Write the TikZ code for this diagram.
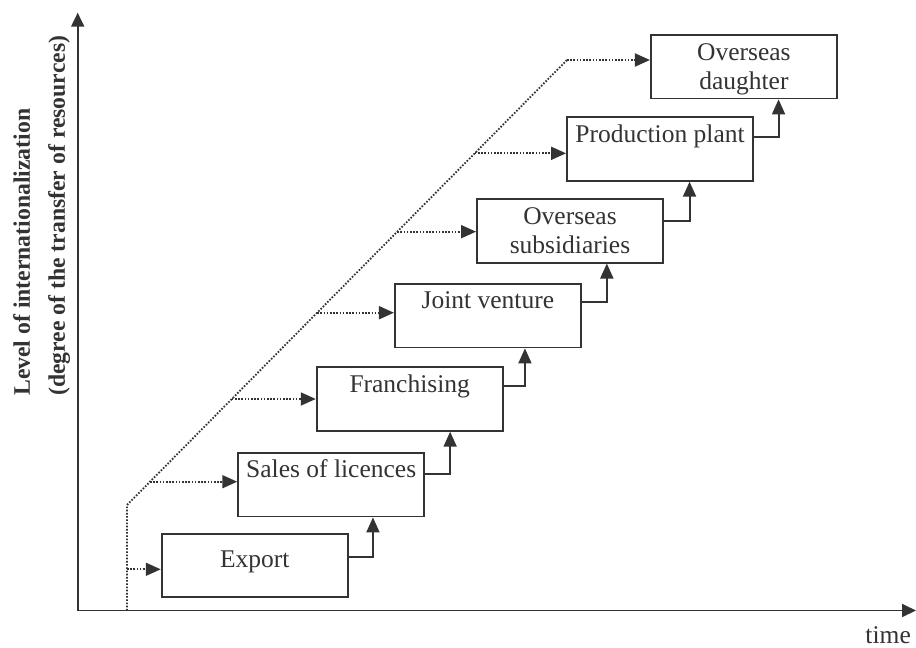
\documentclass[tikz,border=0pt]{standalone}
\usepackage{fontspec}
\setmainfont{Liberation Serif}
\usetikzlibrary{arrows.meta,calc}
\definecolor{ink}{HTML}{333333}
\begin{document}
\begin{tikzpicture}[x=1pt,y=-1pt,
  every node/.style={text=ink},
  box/.style={draw=ink, line width=1.9pt, minimum width=186pt, minimum height=63.5pt,
    inner sep=0pt, text height=25pt, text depth=38.5pt, align=center,
    font=\fontsize{25.5pt}{29pt}\selectfont},
  twoline/.style={text height=54.5pt, text depth=9pt},
  link/.style={draw=ink, line width=1.9pt, -{Triangle[length=15pt,width=13pt]}},
  trail/.style={draw=ink, line width=1.8pt, dash pattern=on 1.6pt off 1.6pt},
  trailarrow/.style={trail, -{Triangle[length=15pt,width=13pt]}},
  axis/.style={draw=ink, line width=1.9pt, -{Triangle[length=14pt,width=13pt]}}
]
\useasboundingbox (0,0) rectangle (916,648);
% axes
\coordinate (o) at (77.7,610.5);
\coordinate (ytop) at (77.7,12.7);
\coordinate (xend) at (916,610.5);
\draw[axis] (o) -- (ytop);
\draw[axis] (o) -- (xend);
\node[anchor=base east, inner sep=0pt, font=\fontsize{25.5pt}{29pt}\selectfont] (time) at (911,643.5) {time};
\node[rotate=90, anchor=north west, inner sep=0pt, align=left,
  font=\bfseries\fontsize{23.7pt}{35pt}\selectfont] (ylab) at (13,396)
  {Level of internationalization\\(degree of the transfer of resources)};
% boxes
\node[box, text height=34.4pt, text depth=29.1pt] (ex) at (254.7,565.3) {Export};
\node[box] (sl) at (331.2,484.7) {Sales of licences};
\node[box] (fr) at (409.7,399) {Franchising};
\node[box] (jv) at (487.9,315.7) {Joint venture};
\node[box, twoline] (os) at (570,230.8) {Overseas\\subsidiaries};
\node[box] (pp) at (660,149) {Production plant};
\node[box, twoline] (od) at (743.9,66.7) {Overseas\\daughter};
% step connectors
\draw[link] ($(ex.north east)+(0,24)$) -- ++(24.3,0) coordinate (c1) -- (c1 |- sl.south);
\draw[link] ($(sl.north east)+(0,21.7)$) -- ++(25,0) coordinate (c2) -- (c2 |- fr.south);
\draw[link] ($(fr.north east)+(0,19.7)$) -- ++(21.3,0) coordinate (c3) -- (c3 |- jv.south);
\draw[link] ($(jv.north east)+(0,19.3)$) -- ++(25,0) coordinate (c4) -- (c4 |- os.south);
\draw[link] ($(os.north east)+(0,23)$) -- ++(25.6,0) coordinate (c5) -- (c5 |- pp.south);
\draw[link] ($(pp.north east)+(0,21)$) -- ++(24.6,0) coordinate (c6) -- (c6 |- od.south);
% dotted trail
\coordinate (d0) at (127,610.5);
\coordinate (d1) at (127,505);
\coordinate (d2) at (567,60);
\draw[trail] (d0) -- (d1) -- (d2);
\coordinate (e0) at (127,569.3);
\coordinate (e1) at ($(d1)!0.05236!(d2)$);
\coordinate (e2) at ($(d1)!0.2382!(d2)$);
\coordinate (e3) at ($(d1)!0.4321!(d2)$);
\coordinate (e4) at ($(d1)!0.6142!(d2)$);
\coordinate (e5) at ($(d1)!0.7903!(d2)$);
\draw[trailarrow] (e0) -- (e0 -| ex.west);
\draw[trailarrow] (e1) -- (e1 -| sl.west);
\draw[trailarrow] (e2) -- (e2 -| fr.west);
\draw[trailarrow] (e3) -- (e3 -| jv.west);
\draw[trailarrow] (e4) -- (e4 -| os.west);
\draw[trailarrow] (e5) -- (e5 -| pp.west);
\draw[trailarrow] (d2) -- (d2 -| od.west);
\end{tikzpicture}
\end{document}
